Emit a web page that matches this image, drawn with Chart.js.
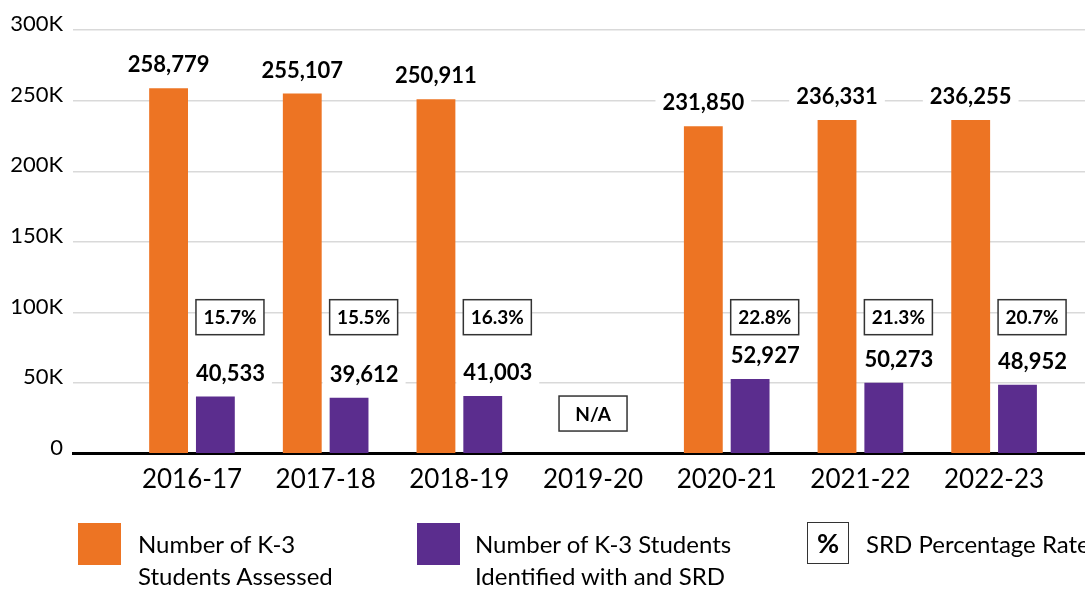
<!DOCTYPE html>
<html>
<head>
<meta charset="utf-8">
<script src="https://cdn.jsdelivr.net/npm/chart.js@4.4.1/dist/chart.umd.min.js"></script>
<style>
  html, body { margin: 0; padding: 0; background: #fff; overflow: hidden; }
  #wrap { position: relative; width: 1085px; height: 589px; overflow: hidden; }
  #chartBox { position: absolute; left: 0; top: 0; width: 1085px; height: 589px; }
  .sw { position: absolute; width: 43px; height: 42px; }
  .lt { position: absolute; font-family: Lato, sans-serif; font-size: 24px; line-height: 32px; color: #000; white-space: nowrap; }
  .pbox { position: absolute; width: 40px; height: 40px; border: 1.5px solid #333; font-family: Lato, sans-serif; font-weight: bold; font-size: 27px; line-height: 40px; text-align: center; color: #000; }
</style>
</head>
<body>
<div id="wrap">
  <div id="chartBox"><canvas id="c"></canvas></div>
  <div class="sw" style="left:78px;top:523px;background:#ED7423;"></div>
  <div class="lt" style="left:138px;top:528px;">Number of K-3<br>Students Assessed</div>
  <div class="sw" style="left:417px;top:523px;background:#5B2D8E;"></div>
  <div class="lt" style="left:475px;top:528px;">Number of K-3 Students<br>Identified with and SRD</div>
  <div class="pbox" style="left:807px;top:522px;">%</div>
  <div class="lt" style="left:866px;top:528px;">SRD Percentage Rate</div>
</div>
<script>
const categories = ['2016-17', '2017-18', '2018-19', '2019-20', '2020-21', '2021-22', '2022-23'];
const studentsAssessed = [258779, 255107, 250911, null, 231850, 236331, 236255];
const studentsIdentified = [40533, 39612, 41003, null, 52927, 50273, 48952];
const srdRates = [15.7, 15.5, 16.3, null, 22.8, 21.3, 20.7];
const yTicks = [0, 50000, 100000, 150000, 200000, 250000, 300000];

const ORANGE = '#ED7423';
const PURPLE = '#5B2D8E';
const FONT = 'Lato, sans-serif';

function fmt(v) { return v.toLocaleString('en-US'); }

function drawLabel(ctx, text, x, y, align) {
  ctx.save();
  ctx.font = 'bold 22px ' + FONT;
  const w = ctx.measureText(text).width;
  const left = align === 'left' ? x : x - w / 2;
  ctx.fillStyle = '#fff';
  ctx.fillRect(left - 7, y - 13, w + 14, 26);
  ctx.fillStyle = '#000';
  ctx.textAlign = 'left';
  ctx.textBaseline = 'middle';
  ctx.fillText(text, left, y);
  ctx.restore();
}

function drawBox(ctx, text, left, cy) {
  const w = 68, h = 35;
  ctx.save();
  ctx.fillStyle = '#fff';
  ctx.fillRect(left, cy - h / 2, w, h);
  ctx.strokeStyle = '#333';
  ctx.lineWidth = 1.5;
  ctx.strokeRect(left, cy - h / 2, w, h);
  ctx.fillStyle = '#000';
  ctx.font = 'bold 19px ' + FONT;
  ctx.textAlign = 'center';
  ctx.textBaseline = 'middle';
  ctx.fillText(text, left + w / 2, cy + 1);
  ctx.restore();
}

const labelPlugin = {
  id: 'valueLabels',
  afterDatasetsDraw(chart) {
    const ctx = chart.ctx;
    const ys = chart.scales.y, xs = chart.scales.x;
    const boxY = ys.getPixelForValue(96700);
    chart.getDatasetMeta(0).data.forEach((bar, i) => {
      const v = studentsAssessed[i];
      if (v == null) return;
      drawLabel(ctx, fmt(v), bar.x, bar.y - 23, 'center');
    });
    chart.getDatasetMeta(1).data.forEach((bar, i) => {
      const v = studentsIdentified[i];
      if (v == null) return;
      const left = bar.x - bar.width / 2;
      drawLabel(ctx, fmt(v), left, bar.y - 23, 'left');
      if (srdRates[i] != null) drawBox(ctx, srdRates[i].toFixed(1) + '%', left, boxY);
    });
    srdRates.forEach((r, i) => {
      if (r == null) {
        const cx = xs.getPixelForValue(i);
        drawBox(ctx, 'N/A', cx - 34, ys.getPixelForValue(28500));
      }
    });
  }
};

new Chart(document.getElementById('c'), {
  type: 'bar',
  data: {
    datasets: [
      { label: 'Number of K-3 Students Assessed', data: categories.map((c, i) => ({ x: i, y: studentsAssessed[i] })), backgroundColor: ORANGE },
      { label: 'Number of K-3 Students Identified with and SRD', data: categories.map((c, i) => ({ x: i, y: studentsIdentified[i] })), backgroundColor: PURPLE }
    ]
  },
  options: {
    responsive: true,
    maintainAspectRatio: false,
    animation: false,
    categoryPercentage: 0.70,
    barPercentage: 0.83,
    layout: { padding: { top: 30, bottom: 84, left: 0, right: 0 } },
    plugins: { legend: { display: false }, tooltip: { enabled: false } },
    scales: {
      x: {
        type: 'linear',
        min: -0.89,
        max: 6.68,
        offset: false,
        grid: { display: false, drawTicks: false },
        border: { display: true, color: '#000', width: 3 },
        afterBuildTicks: (axis) => { axis.ticks = categories.map((c, i) => ({ value: i })); },
        ticks: {
          autoSkip: false, maxRotation: 0, padding: 10,
          color: '#000',
          font: { family: FONT, size: 26 },
          callback: (v) => categories[v]
        }
      },
      y: {
        min: 0, max: 300000,
        afterBuildTicks: (axis) => { axis.ticks = yTicks.map(v => ({ value: v })); },
        afterFit: (axis) => { axis.width = 73; },
        grid: { color: '#d9d9d9', lineWidth: 1.5, drawTicks: false },
        border: { display: false },
        ticks: {
          padding: 10, labelOffset: -6,
          color: '#000',
          font: { family: FONT, size: 22 },
          callback: (v) => v === 0 ? '0' : (v / 1000) + 'K'
        }
      }
    }
  },
  plugins: [labelPlugin]
});
</script>
</body>
</html>
